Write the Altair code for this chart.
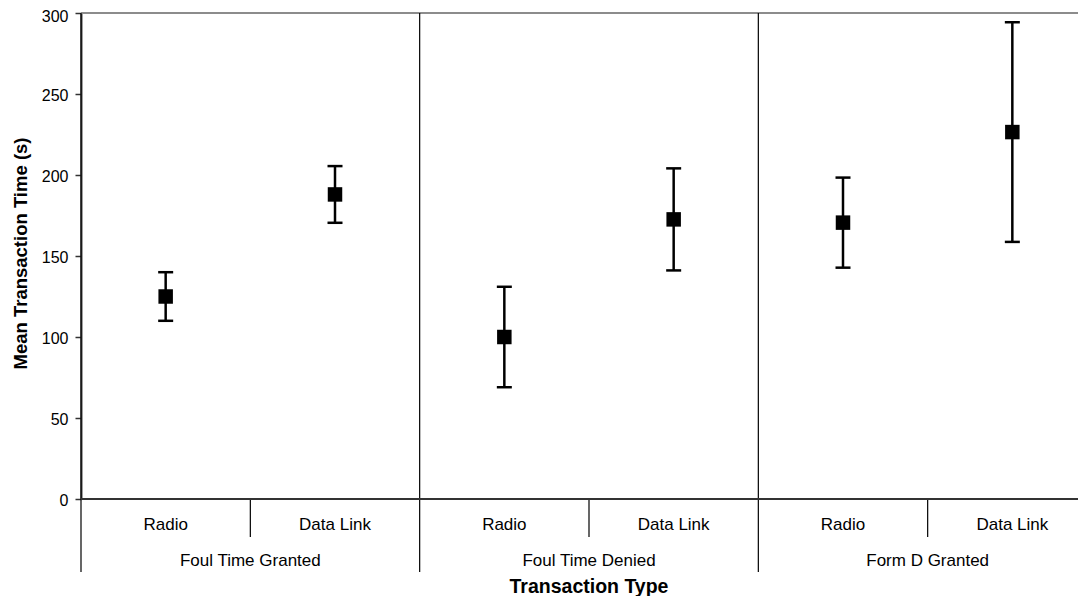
import altair as alt
import pandas as pd

FONT = "Liberation Sans"

groups = ["Foul Time Granted", "Foul Time Denied", "Form D Granted"]
modes = ["Radio", "Data Link"]
means = [125, 188, 100, 172.6, 170.6, 226.5]
errs = [15, 17.5, 31, 31.5, 27.8, 67.8]
y_ticks = [0, 50, 100, 150, 200, 250, 300]

rows = []
for gi, g in enumerate(groups):
    for mi, m in enumerate(modes):
        i = gi * 2 + mi
        rows.append(dict(group=g, mode=m, pos=i + 0.5, mean=means[i],
                         lo=means[i] - errs[i], hi=means[i] + errs[i]))
df = pd.DataFrame(rows)
gdf = pd.DataFrame({
    "group": groups,
    "start": [2 * i for i in range(len(groups))],
    "center": [2 * i + 1 for i in range(len(groups))],
})
one = pd.DataFrame({"v": [0]})

W = 997
xs = alt.Scale(domain=[0, 6], range=[0, 1016])
ys = alt.Scale(domain=[0, 300])

y_axis = alt.Axis(
    values=y_ticks, grid=False, tickSize=6, tickWidth=1.5, tickColor="#333333",
    domainColor="#404040", domainWidth=2, labelFontSize=16, labelFont=FONT,
    labelColor="black", labelPadding=7,
    labelOffset={"condition": {"test": "datum.value == 300", "value": 3}, "value": 1},
    title="Mean Transaction Time (s)", titleFont=FONT, titleFontSize=18.5,
    titleFontWeight="bold", titleColor="black", titleX=-61, titleY=240,
    titleAngle=270, titleAlign="center", titleBaseline="middle",
)

base = alt.Chart(df)
xq = alt.X("pos:Q", scale=xs, axis=None)

err = base.mark_rule(color="black", strokeWidth=2.5).encode(
    x=xq, y=alt.Y("lo:Q", scale=ys, axis=y_axis), y2="hi:Q")
cap_hi = base.mark_tick(color="black", thickness=2.5, size=15, orient="horizontal", opacity=1).encode(
    x=xq, y=alt.Y("hi:Q", scale=ys))
cap_lo = base.mark_tick(color="black", thickness=2.5, size=15, orient="horizontal", opacity=1).encode(
    x=xq, y=alt.Y("lo:Q", scale=ys))
squares = base.mark_square(size=210, color="black", opacity=1).encode(
    x=xq, y=alt.Y("mean:Q", scale=ys))

sub_labels = base.mark_text(font=FONT, fontSize=17, color="black", align="center",
                            baseline="middle").encode(
    x=xq, y=alt.value(512), text="mode:N")

gx_start = alt.X("start:Q", scale=xs, axis=None)
gx_center = alt.X("center:Q", scale=xs, axis=None)
group_labels = alt.Chart(gdf).mark_text(font=FONT, fontSize=17, color="black",
                                        align="center", baseline="middle").encode(
    x=gx_center, y=alt.value(548), text="group:N")
group_div = alt.Chart(gdf).mark_rule(color="black", strokeWidth=1.2).encode(
    x=gx_start, y=alt.value(0), y2=alt.value(559))
sub_div = alt.Chart(gdf).mark_rule(color="black", strokeWidth=1.2).encode(
    x=gx_center, y=alt.value(486), y2=alt.value(524))

top_line = alt.Chart(one).mark_rule(color="#8c8c8c", strokeWidth=2).encode(
    x=alt.value(0), x2=alt.value(W), y=alt.value(0))
zero_line = alt.Chart(one).mark_rule(color="#333333", strokeWidth=1.8).encode(
    x=alt.value(0), x2=alt.value(W), y=alt.value(486))

x_title = alt.Chart(one).mark_text(font=FONT, fontSize=19.5, fontWeight="bold",
                                   color="black", align="center",
                                   baseline="alphabetic").encode(
    x=alt.X("center:Q", scale=xs, axis=None), y=alt.value(580),
    text=alt.value("Transaction Type"))
x_title = x_title.transform_calculate(center="3")

chart = alt.layer(
    top_line, group_div, sub_div, zero_line, err, cap_hi, cap_lo, squares,
    sub_labels, group_labels, x_title,
).properties(
    width=W, height=486, autosize="none",
    padding={"left": 73, "top": 5, "right": 0, "bottom": 97},
    background="white",
).configure_view(stroke=None)

chart.save("out.html", embed_options={"renderer": "svg", "actions": False})
